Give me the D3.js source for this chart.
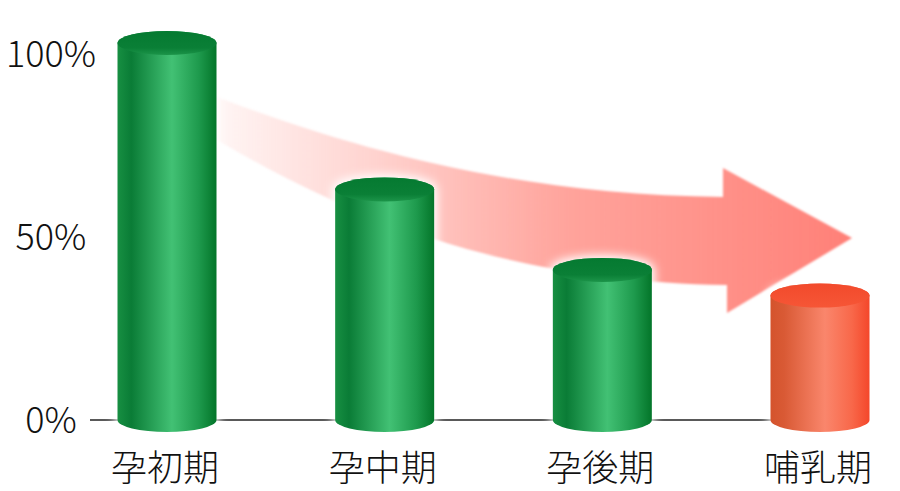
<!DOCTYPE html>
<html>
<head>
<meta charset="utf-8">
<script src="https://cdnjs.cloudflare.com/ajax/libs/d3/7.8.5/d3.min.js"></script>
<style>
  html, body { margin: 0; padding: 0; background: #fff; }
  text { font-family: "Noto Sans CJK JP", "Noto Sans", sans-serif; font-weight: 300; fill: #111; }
</style>
</head>
<body>
<div id="chart"></div>
<script>
// data
var stages = ["孕初期", "孕中期", "孕後期", "哺乳期"];
var values = [103, 63, 41, 34];
var highlight = [false, false, false, true];
var yTicks = [0, 50, 100];

var width = 900,
    height = 491;

var svg = d3.select("#chart")
    .append("svg")
    .attr("width", width)
    .attr("height", height);

var xScale = d3.scalePoint()
    .domain(stages)
    .range([167, 820]);

var yScale = d3.scaleLinear()
    .domain([0, 100])
    .range([420, 54]);

var barW = 99,
    ry = 12;

var defs = svg.append("defs");

function hGrad(id, stops) {
    var g = defs.append("linearGradient").attr("id", id)
        .attr("x1", "0%").attr("x2", "100%").attr("y1", "0%").attr("y2", "0%");
    stops.forEach(function(s) {
        g.append("stop").attr("offset", s[0]).attr("stop-color", s[1]);
    });
}
hGrad("greenBody", [["0%", "#178f42"], ["14%", "#0a7c36"], ["55%", "#42c174"], ["82%", "#1e9a4d"], ["100%", "#037529"]]);
hGrad("redBody", [["0%", "#d4532c"], ["14%", "#d95a35"], ["55%", "#fa866c"], ["82%", "#f8684a"], ["100%", "#f4472a"]]);

var gTop = defs.append("linearGradient").attr("id", "greenTop")
    .attr("x1", "0%").attr("x2", "0%").attr("y1", "0%").attr("y2", "100%");
gTop.append("stop").attr("offset", "0%").attr("stop-color", "#057a31");
gTop.append("stop").attr("offset", "70%").attr("stop-color", "#0a7f36");
gTop.append("stop").attr("offset", "100%").attr("stop-color", "#1c9449");
var rTop = defs.append("linearGradient").attr("id", "redTop")
    .attr("x1", "0%").attr("x2", "0%").attr("y1", "0%").attr("y2", "100%");
rTop.append("stop").attr("offset", "0%").attr("stop-color", "#f24a2c");
rTop.append("stop").attr("offset", "100%").attr("stop-color", "#f65636");

// arrow fade
var aGrad = defs.append("linearGradient").attr("id", "arrowGrad")
    .attr("gradientUnits", "userSpaceOnUse")
    .attr("x1", 217).attr("x2", 852).attr("y1", 0).attr("y2", 0);
aGrad.append("stop").attr("offset", "0%").attr("stop-color", "#ff8a80").attr("stop-opacity", 0.08);
aGrad.append("stop").attr("offset", "25%").attr("stop-color", "#ff8a80").attr("stop-opacity", 0.38);
aGrad.append("stop").attr("offset", "55%").attr("stop-color", "#ff8a80").attr("stop-opacity", 0.78);
aGrad.append("stop").attr("offset", "100%").attr("stop-color", "#ff8078").attr("stop-opacity", 1);

defs.append("filter").attr("id", "soft")
    .append("feGaussianBlur").attr("stdDeviation", 0.8);
defs.append("filter").attr("id", "glow")
    .attr("x", "-30%").attr("y", "-30%").attr("width", "160%").attr("height", "160%")
    .append("feGaussianBlur").attr("stdDeviation", 5);

// baseline
svg.append("line")
    .attr("x1", 90).attr("x2", xScale(stages[3]))
    .attr("y1", yScale(0)).attr("y2", yScale(0))
    .attr("stroke", "#222")
    .attr("stroke-width", 1.6);

// trend arrow
svg.append("path")
    .attr("d", "M217,97 C330,140 500,195 723,197 L723,168 L852,238 L727,313 L727,285 " +
               "C480,282 320,200 217,140 Z")
    .attr("fill", "url(#arrowGrad)")
    .attr("filter", "url(#soft)");

// y tick labels
svg.selectAll(".ytick")
    .data(yTicks)
    .enter()
    .append("text")
    .attr("class", "ytick")
    .attr("x", 51)
    .attr("y", function(d) { return yScale(d); })
    .attr("dy", "0.36em")
    .attr("text-anchor", "middle")
    .style("font-size", "36px")
    .text(function(d) { return d + "%"; });

function bodyPath(i) {
    var cx = xScale(stages[i]),
        l = cx - barW / 2,
        r = cx + barW / 2,
        top = yScale(values[i]),
        bot = yScale(0);
    return "M" + l + "," + top + " L" + l + "," + bot +
        " A" + barW / 2 + "," + ry + " 0 0 0 " + r + "," + bot +
        " L" + r + "," + top +
        " A" + barW / 2 + "," + ry + " 0 0 0 " + l + "," + top + " Z";
}

var bars = svg.selectAll(".bar")
    .data(d3.range(stages.length))
    .enter()
    .append("g")
    .attr("class", "bar");

// white halo behind each cylinder
bars.append("path")
    .attr("d", bodyPath)
    .attr("fill", "#fff")
    .attr("stroke", "#fff")
    .attr("stroke-width", 6)
    .attr("filter", "url(#glow)");

bars.append("path")
    .attr("d", bodyPath)
    .attr("fill", function(i) { return highlight[i] ? "url(#redBody)" : "url(#greenBody)"; });

bars.append("ellipse")
    .attr("cx", function(i) { return xScale(stages[i]); })
    .attr("cy", function(i) { return yScale(values[i]); })
    .attr("rx", barW / 2)
    .attr("ry", ry)
    .attr("fill", function(i) { return highlight[i] ? "url(#redTop)" : "url(#greenTop)"; });

// category labels
svg.selectAll(".xlabel")
    .data(stages)
    .enter()
    .append("text")
    .attr("class", "xlabel")
    .attr("x", function(d) { return xScale(d) - 2; })
    .attr("y", 481)
    .attr("text-anchor", "middle")
    .style("font-size", "36px")
    .text(function(d) { return d; });
</script>
</body>
</html>
